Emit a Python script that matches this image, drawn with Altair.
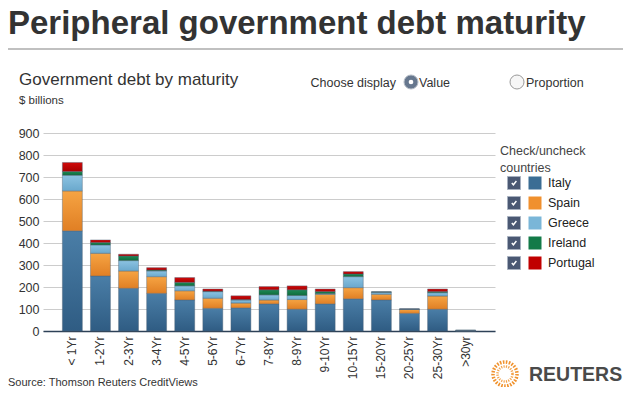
import altair as alt
import pandas as pd

# ---------------- data ----------------
categories = ["< 1Yr", "1-2Yr", "2-3Yr", "3-4Yr", "4-5Yr", "5-6Yr", "6-7Yr", "7-8Yr",
              "8-9Yr", "9-10Yr", "10-15Yr", "15-20Yr", "20-25Yr", "25-30Yr", ">30yr"]
countries = ["Italy", "Spain", "Greece", "Ireland", "Portugal"]
italy = [455, 250, 194, 171, 141, 103, 105, 123, 99, 123, 146, 141, 80, 99, 0]
spain = [182, 103, 79, 76, 42, 46, 22, 18, 44, 44, 51, 26, 18, 60, 0]
greece = [71, 38, 47, 26, 22, 30, 14, 23, 18, 3, 50, 9, 2, 15, 3]
ireland = [17, 11, 21, 4, 16, 2, 2, 23, 26, 9, 12, 2, 0, 5, 0]
portugal = [41, 12, 8, 11, 22, 10, 17, 15, 18, 12, 11, 0, 0, 12, 0]
y_ticks = [0, 100, 200, 300, 400, 500, 600, 700, 800, 900]

title_text = "Peripheral government debt maturity"
subtitle_text = "Government debt by maturity"
unit_text = "$ billions"
choose_text = "Choose display"
opt1_text = "Value"
opt2_text = "Proportion"
legend_title = ["Check/uncheck", "countries"]
source_text = "Source: Thomson Reuters CreditViews"
brand_text = "REUTERS"

colors = ["#3b6d94", "#f0902e", "#7ab6d8", "#137a48", "#c00000"]
grad = {
    "Italy": ("#4a7ea7", "#2f5c83"),
    "Spain": ("#f6a443", "#e07f24"),
    "Greece": ("#8cc3e2", "#6aa8cc"),
    "Ireland": ("#1d8a55", "#0f6a3c"),
    "Portugal": ("#d00a0a", "#a80000"),
}

series = {"Italy": italy, "Spain": spain, "Greece": greece, "Ireland": ireland, "Portugal": portugal}
rows = []
for ci, c in enumerate(countries):
    for m, v in zip(categories, series[c]):
        rows.append({"maturity": m, "country": c, "order": ci, "value": v})
df = pd.DataFrame(rows)

FONT = "Liberation Sans"
TXT = "#333333"

xenc = alt.X(
    "maturity:N",
    sort=categories,
    scale=alt.Scale(domain=categories, paddingInner=0.29, paddingOuter=0.69),
    axis=alt.Axis(title=None, labelAngle=-90, ticks=False, domainColor="#2d4157",
                  domainWidth=1.5, labelFontSize=12, labelColor=TXT, labelPadding=5,
                  labelFont=FONT),
)
yaxis = alt.Axis(title=None, values=y_ticks, domain=False, ticks=False, grid=True,
                 gridColor="#cccccc", labelFontSize=12.5, labelColor=TXT, labelPadding=4,
                 labelFont=FONT)

stacked = alt.Chart(df).transform_stack(
    stack="value", groupby=["maturity"], as_=["v0", "v1"],
    sort=[alt.SortField("order", "ascending")],
)

bar_layers = []
for i, c in enumerate(countries):
    top, bot = grad[c]
    g = alt.LinearGradient(gradient="linear",
                           stops=[alt.GradientStop(color=top, offset=0),
                                  alt.GradientStop(color=bot, offset=1)],
                           x1=0, x2=0, y1=0, y2=1)
    bar_layers.append(
        stacked.transform_filter(alt.datum.country == c)
        .mark_bar(fill=g, stroke="#4f6377", strokeWidth=0.6, strokeOpacity=0.7)
        .encode(
            x=xenc,
            y=alt.Y("v1:Q", scale=alt.Scale(domain=[0, 900], nice=False), axis=yaxis),
            y2="v0:Q",
        )
    )
bars = alt.layer(*bar_layers)

# ---------------- custom legend ----------------
leg_df = pd.DataFrame({"country": countries})
y_leg = alt.Y("country:N", scale=alt.Scale(type="point", domain=countries, range=[50, 130], padding=0),
              axis=None)
checkbox = alt.Chart(leg_df).mark_square(size=169, filled=True, fill="#4a5873", stroke="#a7b0bf",
                                         strokeWidth=1, opacity=1).encode(x=alt.value(471), y=y_leg)
checkmark = alt.Chart(leg_df).mark_point(shape="M-0.55,0 L-0.15,0.45 L0.6,-0.5", filled=False,
                                         stroke="white", strokeWidth=1.4, size=64, opacity=1
                                         ).encode(x=alt.value(471), y=y_leg)
swatch = alt.Chart(leg_df).mark_square(size=169, opacity=1).encode(
    x=alt.value(492), y=y_leg,
    color=alt.Color("country:N", scale=alt.Scale(domain=countries, range=colors), legend=None))
leg_labels = alt.Chart(leg_df).mark_text(align="left", baseline="middle", fontSize=12.5, color="#222222",
                                         font=FONT).encode(x=alt.value(505), y=y_leg, text="country:N")
legend = alt.layer(checkbox, checkmark, swatch, leg_labels)


def label(text, x, y, size, color=TXT, weight="normal", align="left"):
    return alt.Chart(pd.DataFrame({"t": [text]})).mark_text(
        align=align, baseline="alphabetic", fontSize=size, fontWeight=weight, color=color, font=FONT
    ).encode(x=alt.value(x), y=alt.value(y), text="t:N")


one = pd.DataFrame({"k": [0]})
annots = [
    label(title_text, -35, -99, 33, color="#333333", weight="bold"),
    alt.Chart(one).mark_rule(color="#c0c0c0", strokeWidth=2).encode(
        x=alt.value(-35), x2=alt.value(580), y=alt.value(-84)),
    label(subtitle_text, -24, -48.5, 17),
    label(unit_text, -24, -29, 11.5),
    label(choose_text, 267.5, -46.5, 12.5),
    alt.Chart(one).mark_circle(size=196, fill="#66778e", stroke="#b5bcc6", strokeWidth=1, opacity=1
                               ).encode(x=alt.value(368), y=alt.value(-51)),
    alt.Chart(one).mark_circle(size=22, fill="#ffffff", opacity=1
                               ).encode(x=alt.value(368), y=alt.value(-51)),
    label(opt1_text, 376, -46.5, 12.5),
    alt.Chart(one).mark_circle(size=196, fill="#f6f6f6", stroke="#9a9a9a", strokeWidth=1, opacity=1
                               ).encode(x=alt.value(474), y=alt.value(-51)),
    label(opt2_text, 483, -46.5, 12.5),
    label(legend_title[0], 457, 22, 12.5, color="#444444"),
    label(legend_title[1], 457, 39, 12.5, color="#444444"),
    label(source_text, -35, 253, 11),
    alt.Chart(one).mark_point(shape="circle", filled=False, stroke="#f0922d", strokeWidth=3.5,
                              strokeDash=[1.6, 1.4], size=576, opacity=1
                              ).encode(x=alt.value(462), y=alt.value(241)),
    alt.Chart(one).mark_point(shape="circle", filled=False, stroke="#f3a24a", strokeWidth=2.5,
                              strokeDash=[1.2, 1.2], size=225, opacity=1
                              ).encode(x=alt.value(462), y=alt.value(241)),
    label(brand_text, 486, 247.5, 19.5, color="#4a4a4a", weight="bold"),
]

chart = (
    alt.layer(bars, legend, *annots)
    .resolve_scale(y="independent", color="independent")
    .properties(width=452, height=198, autosize="none",
                padding={"left": 35, "top": 125, "right": 128, "bottom": 56})
    .configure(font=FONT)
    .configure_view(strokeWidth=0)
)

chart.save("out.html", embed_options={"renderer": "svg", "actions": False})
